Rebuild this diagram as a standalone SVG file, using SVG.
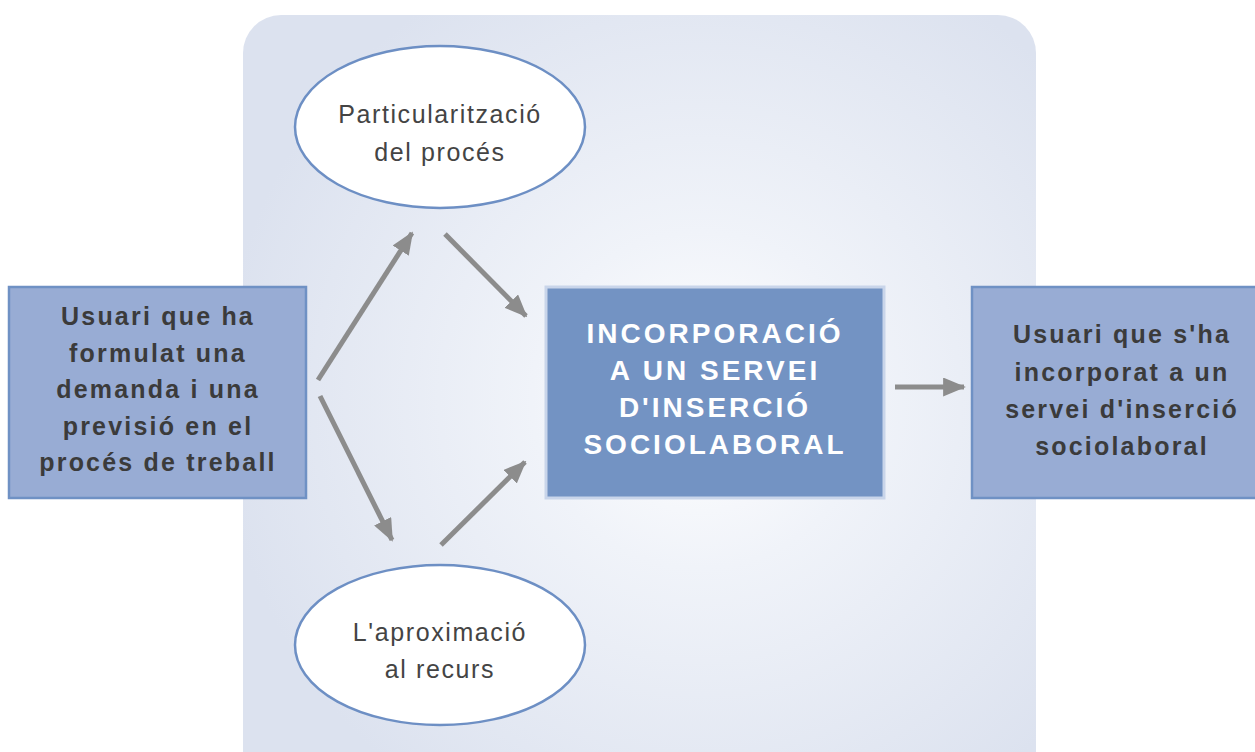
<svg xmlns="http://www.w3.org/2000/svg" width="1255" height="752" viewBox="0 0 1255 752">
<defs>
<radialGradient id="bg" cx="700" cy="400" r="480" gradientUnits="userSpaceOnUse">
<stop offset="0" stop-color="#ffffff"/>
<stop offset="0.35" stop-color="#f0f3f9"/>
<stop offset="1" stop-color="#dce2ef"/>
</radialGradient>
<marker id="ah" viewBox="0 0 12 10" refX="11" refY="5" markerWidth="4.6" markerHeight="3.8" orient="auto" markerUnits="strokeWidth">
<path d="M0,0 L12,5 L0,10 z" fill="#8c8c8c"/>
</marker>
</defs>
<style>
.side{fill:#98acd4;stroke:#6f91c4;stroke-width:2.5}
.main{fill:#7393c3;stroke:#c9d5ea;stroke-width:3}
.ell{fill:#ffffff;stroke:#6d8fc4;stroke-width:2.5}
.bt{font-family:"Liberation Sans",Arial,sans-serif;font-weight:bold;font-size:25px;fill:#3b3b3b;text-anchor:middle;letter-spacing:2.2px}
.mt{font-family:"Liberation Sans",Arial,sans-serif;font-weight:bold;font-size:28px;fill:#ffffff;text-anchor:middle;letter-spacing:3px}
.et{font-family:"Liberation Sans",Arial,sans-serif;font-size:25px;fill:#444444;text-anchor:middle;letter-spacing:1.6px}
.conn{stroke:#8c8c8c;stroke-width:5;fill:none;marker-end:url(#ah)}
</style>
<rect x="243" y="15" width="793" height="780" rx="38" ry="38" fill="url(#bg)"/>
<g id="connectors">
<line class="conn" x1="318" y1="380" x2="412" y2="233"/>
<line class="conn" x1="445" y1="234" x2="526" y2="316"/>
<line class="conn" x1="320" y1="396" x2="392" y2="540"/>
<line class="conn" x1="441" y1="545" x2="525" y2="462"/>
<line class="conn" x1="895" y1="387" x2="964" y2="387"/>
</g>
<g id="node-particularitzacio">
<ellipse class="ell" cx="440" cy="127" rx="145" ry="81"/>
<text class="et" x="440" y="123">Particularització</text>
<text class="et" x="440" y="161">del procés</text>
</g>
<g id="node-aproximacio">
<ellipse class="ell" cx="440" cy="645" rx="145" ry="80"/>
<text class="et" x="440" y="641">L'aproximació</text>
<text class="et" x="440" y="678">al recurs</text>
</g>
<g id="node-usuari-inicial">
<rect class="side" x="9" y="287" width="297" height="211"/>
<text class="bt" x="158" y="325">Usuari que ha</text>
<text class="bt" x="158" y="362">formulat una</text>
<text class="bt" x="158" y="398">demanda i una</text>
<text class="bt" x="158" y="435">previsió en el</text>
<text class="bt" x="158" y="471">procés de treball</text>
</g>
<g id="node-incorporacio">
<rect class="main" x="546" y="287" width="338" height="211"/>
<text class="mt" x="715" y="343">INCORPORACIÓ</text>
<text class="mt" x="715" y="380">A UN SERVEI</text>
<text class="mt" x="715" y="417">D'INSERCIÓ</text>
<text class="mt" x="715" y="454">SOCIOLABORAL</text>
</g>
<g id="node-usuari-final">
<rect class="side" x="972" y="287" width="295" height="211"/>
<text class="bt" x="1122" y="343">Usuari que s'ha</text>
<text class="bt" x="1122" y="381">incorporat a un</text>
<text class="bt" x="1122" y="418">servei d'inserció</text>
<text class="bt" x="1122" y="455">sociolaboral</text>
</g>
</svg>
